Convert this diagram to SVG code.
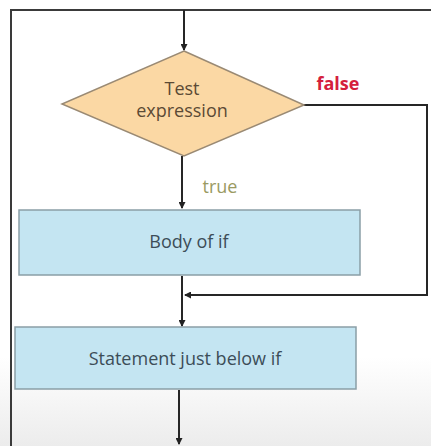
<svg xmlns="http://www.w3.org/2000/svg" width="431" height="446" viewBox="0 0 431 446">
<defs>
<linearGradient id="bg" x1="0" y1="0" x2="0" y2="1">
<stop offset="0.8" stop-color="#ffffff"/>
<stop offset="1" stop-color="#ececec"/>
</linearGradient>
<marker id="ah" markerWidth="7" markerHeight="7" refX="6" refY="3.5" orient="auto" markerUnits="userSpaceOnUse">
<path d="M0,0 L7,3.5 L0,7 Z" fill="#222"/>
</marker>
<style>
.frame{fill:none;stroke:#3a3a3a;stroke-width:2}
.conn{fill:none;stroke:#262626;stroke-width:2}
.box{fill:#c4e5f2;stroke:#8a9ea6;stroke-width:1.5}
.dia{fill:#fbd8a4;stroke:#9a8a74;stroke-width:1.5}
.t{font-family:"Open Sans","Liberation Sans",sans-serif;font-size:18px;text-anchor:middle}
</style>
</defs>
<rect x="0" y="0" width="431" height="446" fill="url(#bg)"/>
<path class="frame" d="M11,446 V10 H431"/>
<g id="connectors">
<path class="conn" d="M184,10 V50" marker-end="url(#ah)"/>
<path class="conn" d="M182,156 V208" marker-end="url(#ah)"/>
<path class="conn" d="M304,105 H427 V295 H185" marker-end="url(#ah)"/>
<path class="conn" d="M182,276 V326" marker-end="url(#ah)"/>
<path class="conn" d="M179,390 V444" marker-end="url(#ah)"/>
<text class="t" x="220" y="193" fill="#9a9a62">true</text>
<text class="t" x="338" y="90" fill="#d4203c" font-weight="bold" font-size="17">false</text>
</g>
<g id="test">
<polygon class="dia" points="184,51 304,105 184,156 62,104"/>
<text class="t" x="182" y="95" fill="#5b4a35">Test</text>
<text class="t" x="182" y="117" fill="#5b4a35">expression</text>
</g>
<g id="body">
<rect class="box" x="19" y="210" width="341" height="65"/>
<text class="t" x="189" y="248" fill="#3c4d58">Body of if</text>
</g>
<g id="statement">
<rect class="box" x="15" y="327" width="341" height="62"/>
<text class="t" x="185" y="365" fill="#3c4d58">Statement just below if</text>
</g>
</svg>
